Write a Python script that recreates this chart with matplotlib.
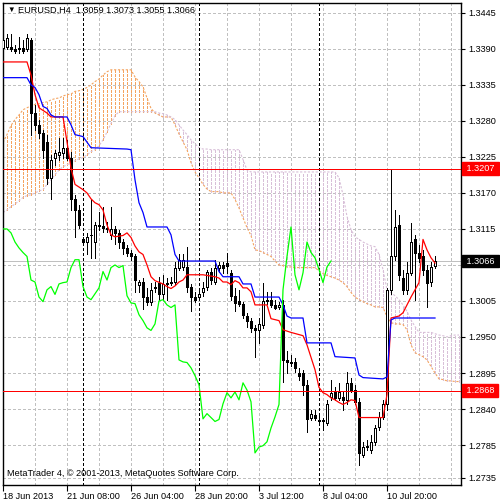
import numpy as np
import matplotlib
matplotlib.use("Agg")
import matplotlib.pyplot as plt
from matplotlib.patches import Rectangle
import matplotlib.transforms as mtransforms

plt.rcParams['font.family'] = ['Liberation Sans', 'DejaVu Sans']
plt.rcParams['font.size'] = 6.6

# EURUSD H4 candles, oldest first
opens = [1.3392, 1.3393, 1.3393, 1.3390, 1.3389, 1.3392, 1.3389, 1.3404, 1.3292, 1.3274,
         1.3262, 1.3248, 1.3193, 1.3224, 1.3228, 1.3231, 1.3239, 1.3224, 1.3160, 1.3144,
         1.3099, 1.3095, 1.3105, 1.3095, 1.3121, 1.3120, 1.3117, 1.3106, 1.3115, 1.3109,
         1.3095, 1.3086, 1.3079, 1.3073, 1.3030, 1.3034, 1.3011, 1.3004, 1.3025, 1.3033,
         1.3015, 1.3031, 1.3033, 1.3034, 1.3056, 1.3057, 1.3057, 1.3027, 1.3011, 1.3011,
         1.3018, 1.3027, 1.3050, 1.3034, 1.3056, 1.3060, 1.3063, 1.3047, 1.3013, 1.3005,
         1.3001, 1.2982, 1.2975, 1.2964, 1.2960, 1.2969, 1.3005, 1.3007, 1.2999, 1.2996,
         1.2999, 1.2915, 1.2912, 1.2912, 1.2895, 1.2895, 1.2877, 1.2827, 1.2831, 1.2824,
         1.2821, 1.2819, 1.2859, 1.2866, 1.2857, 1.2859, 1.2854, 1.2880, 1.2869, 1.2851,
         1.2770, 1.2782, 1.2778, 1.2790, 1.2813, 1.2828, 1.2847, 1.3022, 1.3073, 1.3121,
         1.3040, 1.3022, 1.3048, 1.3099, 1.3079, 1.3073, 1.3053, 1.3034, 1.3059]
highs = [1.3415, 1.3412, 1.3412, 1.3396, 1.3408, 1.3404, 1.3412, 1.3407, 1.3305, 1.3282,
         1.3266, 1.3259, 1.3228, 1.3236, 1.3254, 1.3254, 1.3251, 1.3233, 1.3167, 1.3152,
         1.3102, 1.3109, 1.3160, 1.3126, 1.3141, 1.3149, 1.3126, 1.3149, 1.3120, 1.3114,
         1.3099, 1.3091, 1.3083, 1.3076, 1.3037, 1.3040, 1.3025, 1.3033, 1.3034, 1.3042,
         1.3045, 1.3040, 1.3042, 1.3065, 1.3076, 1.3076, 1.3088, 1.3031, 1.3018, 1.3022,
         1.3034, 1.3053, 1.3056, 1.3068, 1.3065, 1.3065, 1.3079, 1.3053, 1.3025, 1.3021,
         1.3004, 1.2986, 1.2979, 1.2969, 1.2979, 1.3033, 1.3018, 1.3019, 1.3007, 1.3004,
         1.3007, 1.2928, 1.2923, 1.2918, 1.2903, 1.2900, 1.2885, 1.2839, 1.2839, 1.2831,
         1.2827, 1.2854, 1.2885, 1.2873, 1.2880, 1.2866, 1.2897, 1.2888, 1.2877, 1.2857,
         1.2790, 1.2793, 1.2801, 1.2816, 1.2836, 1.2854, 1.3025, 1.3207, 1.3144, 1.3137,
         1.3053, 1.3065, 1.3124, 1.3106, 1.3091, 1.3083, 1.3060, 1.3065, 1.3073]
lows = [1.3381, 1.3389, 1.3386, 1.3384, 1.3384, 1.3384, 1.3386, 1.3259, 1.3266, 1.3254,
        1.3224, 1.3183, 1.3160, 1.3213, 1.3221, 1.3224, 1.3221, 1.3144, 1.3102, 1.3117,
        1.3092, 1.3076, 1.3071, 1.3071, 1.3114, 1.3111, 1.3111, 1.3099, 1.3092, 1.3086,
        1.3076, 1.3074, 1.3068, 1.3019, 1.3018, 1.2992, 1.2999, 1.2999, 1.3019, 1.3007,
        1.3007, 1.3007, 1.3030, 1.3030, 1.3053, 1.3053, 1.3019, 1.2989, 1.3004, 1.3008,
        1.3013, 1.3022, 1.3031, 1.3031, 1.3050, 1.3047, 1.3047, 1.3007, 1.2989, 1.2998,
        1.2979, 1.2966, 1.2958, 1.2920, 1.2941, 1.2964, 1.3001, 1.2996, 1.2992, 1.2992,
        1.2882, 1.2895, 1.2906, 1.2897, 1.2885, 1.2862, 1.2805, 1.2824, 1.2824, 1.2816,
        1.2808, 1.2816, 1.2854, 1.2854, 1.2854, 1.2839, 1.2847, 1.2866, 1.2848, 1.2755,
        1.2766, 1.2778, 1.2773, 1.2785, 1.2808, 1.2825, 1.2839, 1.3015, 1.3068, 1.3037,
        1.3015, 1.3015, 1.3044, 1.3007, 1.3065, 1.3045, 1.2996, 1.3028, 1.3055]
closes = [1.3404, 1.3407, 1.3389, 1.3387, 1.3392, 1.3387, 1.3407, 1.3292, 1.3274, 1.3262,
          1.3236, 1.3193, 1.3221, 1.3231, 1.3233, 1.3239, 1.3224, 1.3160, 1.3144, 1.3121,
          1.3095, 1.3102, 1.3106, 1.3121, 1.3120, 1.3117, 1.3115, 1.3115, 1.3109, 1.3095,
          1.3086, 1.3079, 1.3073, 1.3037, 1.3034, 1.3011, 1.3004, 1.3022, 1.3027, 1.3015,
          1.3031, 1.3033, 1.3034, 1.3056, 1.3068, 1.3068, 1.3027, 1.3011, 1.3007, 1.3016,
          1.3025, 1.3050, 1.3037, 1.3056, 1.3060, 1.3056, 1.3059, 1.3013, 1.3002, 1.3001,
          1.2984, 1.2975, 1.2964, 1.2960, 1.2970, 1.3005, 1.3007, 1.2999, 1.2995, 1.2999,
          1.2915, 1.2912, 1.2911, 1.2903, 1.2891, 1.2877, 1.2825, 1.2833, 1.2827, 1.2821,
          1.2824, 1.2848, 1.2865, 1.2857, 1.2866, 1.2854, 1.2880, 1.2869, 1.2851, 1.2773,
          1.2782, 1.2784, 1.2790, 1.2811, 1.2828, 1.2847, 1.3022, 1.3073, 1.3118, 1.3045,
          1.3022, 1.3048, 1.3095, 1.3079, 1.3071, 1.3053, 1.3033, 1.3057, 1.3066]

# Ichimoku lines (bar index, price)
tenkan_bar = [0, 6, 7, 8, 9, 11, 12, 15, 16, 17, 18, 20, 21, 22, 23, 24, 25, 26, 27, 28,
              30, 31, 32, 33, 34, 35, 36, 37, 38, 40, 41, 42, 43, 44, 45, 46, 50, 53, 54, 55,
              56, 57, 58, 59, 60, 61, 62, 63, 66, 67, 69, 70, 72, 75, 76, 78, 79, 80, 81, 82,
              83, 84, 85, 86, 87, 88, 89, 95, 96, 97, 99, 100, 101, 102, 103, 104, 105, 106, 107, 108]
tenkan_val = [1.3370, 1.3370, 1.3350, 1.3320, 1.3300, 1.3292, 1.3286, 1.3286, 1.3248, 1.3208,
              1.3183, 1.3175, 1.3170, 1.3161, 1.3155, 1.3152, 1.3144, 1.3121, 1.3106, 1.3103,
              1.3105, 1.3109, 1.3102, 1.3089, 1.3080, 1.3076, 1.3060, 1.3042, 1.3036, 1.3031,
              1.3027, 1.3024, 1.3028, 1.3034, 1.3037, 1.3045, 1.3045, 1.3042, 1.3040, 1.3034,
              1.3034, 1.3030, 1.3036, 1.3033, 1.3025, 1.3025, 1.3019, 1.2999, 1.2999, 1.2978,
              1.2975, 1.2961, 1.2957, 1.2952, 1.2938, 1.2900, 1.2873, 1.2865, 1.2862, 1.2857,
              1.2854, 1.2850, 1.2847, 1.2850, 1.2854, 1.2853, 1.2827, 1.2827, 1.2862, 1.2979,
              1.2982, 1.2987, 1.2999, 1.3011, 1.3022, 1.3033, 1.3099, 1.3083, 1.3071, 1.3063]

kijun_bar = [0, 6, 7, 8, 9, 10, 11, 12, 13, 16, 17, 18, 20, 22, 31, 32, 33, 34, 35, 36,
             41, 42, 43, 44, 53, 54, 55, 59, 60, 62, 63, 69, 70, 71, 72, 75, 76, 82, 83, 88,
             89, 90, 95, 96, 97, 98, 108]
kijun_val = [1.3346, 1.3346, 1.3335, 1.3331, 1.3320, 1.3302, 1.3299, 1.3289, 1.3286, 1.3286,
             1.3274, 1.3259, 1.3256, 1.3239, 1.3237, 1.3236, 1.3190, 1.3155, 1.3140, 1.3118,
             1.3118, 1.3106, 1.3076, 1.3066, 1.3066, 1.3050, 1.3042, 1.3042, 1.3031, 1.3031,
             1.3011, 1.3011, 1.2999, 1.2982, 1.2979, 1.2979, 1.2941, 1.2941, 1.2920, 1.2918,
             1.2892, 1.2888, 1.2886, 1.2889, 1.2976, 1.2979, 1.2979]

# Senkou spans, one value per bar (already shifted 26 bars ahead)
span_a = [1.3247, 1.3259, 1.3273, 1.3282, 1.3289, 1.3297, 1.3300, 1.3303, 1.3305, 1.3306,
          1.3308, 1.3309, 1.3312, 1.3314, 1.3315, 1.3318, 1.3320, 1.3321, 1.3325, 1.3326,
          1.3328, 1.3331, 1.3335, 1.3340, 1.3344, 1.3350, 1.3355, 1.3358, 1.3358, 1.3358,
          1.3358, 1.3358, 1.3358, 1.3347, 1.3340, 1.3332, 1.3315, 1.3299, 1.3292, 1.3289,
          1.3286, 1.3286, 1.3286, 1.3274, 1.3260, 1.3248, 1.3236, 1.3216, 1.3202, 1.3193,
          1.3183, 1.3176, 1.3172, 1.3172, 1.3172, 1.3170, 1.3170, 1.3170, 1.3160, 1.3147,
          1.3132, 1.3117, 1.3105, 1.3083, 1.3082, 1.3079, 1.3076, 1.3073, 1.3066, 1.3060,
          1.3059, 1.3057, 1.3057, 1.3056, 1.3056, 1.3056, 1.3056, 1.3056, 1.3056, 1.3051,
          1.3047, 1.3044, 1.3042, 1.3040, 1.3037, 1.3033, 1.3027, 1.3018, 1.3011, 1.3007,
          1.3004, 1.3001, 1.2999, 1.2996, 1.2996, 1.2995, 1.2981, 1.2972, 1.2970, 1.2970,
          1.2969, 1.2961, 1.2938, 1.2926, 1.2923, 1.2920, 1.2915, 1.2905, 1.2895, 1.2886,
          1.2885, 1.2883, 1.2883, 1.2882, 1.2882]
span_b = [1.3140, 1.3144, 1.3149, 1.3153, 1.3158, 1.3163, 1.3166, 1.3167, 1.3170, 1.3173,
          1.3175, 1.3183, 1.3190, 1.3198, 1.3205, 1.3210, 1.3213, 1.3216, 1.3219, 1.3222,
          1.3224, 1.3228, 1.3233, 1.3236, 1.3242, 1.3251, 1.3263, 1.3276, 1.3288, 1.3294,
          1.3294, 1.3294, 1.3294, 1.3294, 1.3294, 1.3294, 1.3294, 1.3294, 1.3294, 1.3292,
          1.3291, 1.3289, 1.3286, 1.3282, 1.3274, 1.3266, 1.3259, 1.3251, 1.3245, 1.3239,
          1.3237, 1.3237, 1.3236, 1.3236, 1.3236, 1.3236, 1.3236, 1.3236, 1.3236, 1.3236,
          1.3221, 1.3205, 1.3202, 1.3202, 1.3202, 1.3202, 1.3202, 1.3202, 1.3202, 1.3202,
          1.3202, 1.3202, 1.3202, 1.3202, 1.3202, 1.3202, 1.3202, 1.3202, 1.3202, 1.3202,
          1.3202, 1.3202, 1.3202, 1.3202, 1.3193, 1.3167, 1.3134, 1.3114, 1.3103, 1.3099,
          1.3095, 1.3092, 1.3089, 1.3088, 1.3076, 1.3053, 1.3022, 1.3018, 1.3013, 1.3007,
          1.2999, 1.2989, 1.2976, 1.2966, 1.2957, 1.2957, 1.2957, 1.2957, 1.2955, 1.2953,
          1.2952, 1.2950, 1.2952, 1.2953, 1.2953]

time_ticks = [0, 16, 32, 48, 64, 80, 96]
time_labels = ["18 Jun 2013", "21 Jun 08:00", "26 Jun 04:00", "28 Jun 20:00",
               "3 Jul 12:00", "8 Jul 04:00", "10 Jul 20:00"]
week_starts = [20, 49, 79]
price_ticks = [1.3445, 1.3390, 1.3335, 1.3280, 1.3225, 1.3170, 1.3115, 1.3060,
               1.3005, 1.2950, 1.2895, 1.2840, 1.2785, 1.2735]
red_levels = [1.3207, 1.2868]
last_price = 1.3066
ohlc_title = "EURUSD,H4  1.3059 1.3073 1.3055 1.3066"

thin = 0.5  # with antialiasing off this draws a single pixel
dot = (0, (3, 2))
sandy = '#F4A460'
thistle = '#D8BFD8'

fig = plt.figure(figsize=(5, 5), dpi=100)
ax = fig.add_axes([0.006, 0.03, 0.916, 0.964])

# kumo hatch
sx = np.arange(len(span_a))
sa = np.array(span_a)
sb = np.array(span_b)
up = sa >= sb
ax.vlines(sx[up], sb[up], sa[up], colors=sandy, linestyles=dot, lw=thin,
          antialiaseds=False, zorder=1)
ax.vlines(sx[~up], sa[~up], sb[~up], colors=thistle, linestyles=dot, lw=thin,
          antialiaseds=False, zorder=1)
ax.plot(sx, sa, color=sandy, ls=(0, (2, 1.5)), lw=0.8, zorder=1.2)
ax.plot(sx, sb, color=thistle, ls=(0, (2, 1.5)), lw=0.8, zorder=1.2)

ax.axhline(last_price, color='#C0C0C0', lw=thin, antialiased=False, zorder=0.8)
for w in week_starts:
    ax.axvline(w, color='black', ls=(0, (3, 3)), lw=thin, antialiased=False, zorder=2)

# candles
for i in range(len(closes)):
    o, c = opens[i], closes[i]
    ax.vlines(i, lows[i], highs[i], color='black', lw=thin, antialiaseds=False, zorder=3)
    face = 'white' if c >= o else 'black'
    ax.add_patch(Rectangle((i - 0.35, min(o, c)), 0.7, abs(c - o), facecolor=face,
                           edgecolor='black', lw=thin, antialiased=False, zorder=3.5))

# tenkan, kijun, chikou
ax.plot(tenkan_bar, tenkan_val, color='red', lw=0.9, zorder=4)
ax.plot(kijun_bar, kijun_val, color='blue', lw=0.9, zorder=4)
ax.plot(np.arange(len(closes) - 26), closes[26:], color='#00FF00', lw=0.9, zorder=4)

for p in red_levels:
    ax.axhline(p, color='red', lw=thin, antialiased=False, zorder=5)

ax.set_xlim(0, 114.5)
ax.set_ylim(1.2724, 1.3460)

ax.set_xticks(time_ticks)
ax.set_xticklabels(time_labels)
for lbl in ax.get_xticklabels():
    lbl.set_horizontalalignment('left')
ax.set_xticks(np.arange(8, 115, 8), minor=True)
ax.set_yticks(price_ticks)
ax.set_yticklabels(['' if p == 1.3060 else f"{p:.4f}" for p in price_ticks])
ax.yaxis.tick_right()
ax.tick_params(axis='y', direction='out', length=3, width=0.8, pad=2, labelsize=6.6)
ax.tick_params(axis='x', which='major', direction='out', length=4, width=0.8, pad=1,
               labelsize=6.6)
ax.tick_params(axis='x', which='minor', length=0)
ax.grid(True, which='both', axis='x', color='#C0C0C0', ls=(0, (4, 3)), lw=thin,
        antialiased=False, zorder=0)
ax.grid(True, which='major', axis='y', color='#C0C0C0', ls=(0, (4, 3)), lw=thin,
        antialiased=False, zorder=0)
ax.set_axisbelow(True)
for s in ax.spines.values():
    s.set_color('black')
    s.set_linewidth(1)

trans = mtransforms.blended_transform_factory(ax.transAxes, ax.transData)
for p in red_levels:
    ax.text(1.006, p, f" {p:.4f} ", transform=trans, color='white', fontsize=6.6,
            va='center', ha='left', clip_on=False, zorder=10,
            bbox=dict(boxstyle='square,pad=0.2', fc='red', ec='red'))
ax.text(1.006, last_price, f" {last_price:.4f} ", transform=trans, color='white',
        fontsize=6.6, va='center', ha='left', clip_on=False, zorder=10,
        bbox=dict(boxstyle='square,pad=0.2', fc='black', ec='black'))

fig.text(7 / 500, 1 - 10.5 / 500, "\u25bc", fontsize=5.5, va='center', ha='left')
fig.text(18 / 500, 1 - 10.5 / 500, ohlc_title, fontsize=6.6, va='center', ha='left')
fig.text(7 / 500, 1 - 474 / 500, "MetaTrader 4, \u00a9 2001-2013, MetaQuotes Software Corp.",
         fontsize=6.6, va='center', ha='left')

fig.savefig("out.png", dpi=100, facecolor='white')
